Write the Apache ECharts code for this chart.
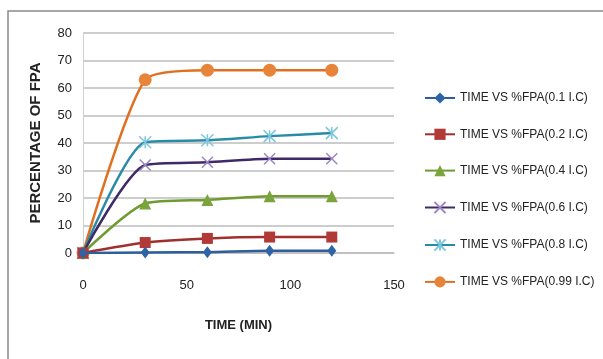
<!DOCTYPE html>
<html>
<head>
<meta charset="utf-8">
<script src="https://cdn.jsdelivr.net/npm/echarts@6/dist/echarts.min.js"></script>
<style>
html,body{margin:0;padding:0;background:#fff;}
#chart{width:603px;height:359px;}
</style>
</head>
<body>
<div id="chart"></div>
<script>
var times = [0, 30, 60, 90, 120];
var seriesNames = [
  'TIME VS %FPA(0.1 I.C)',
  'TIME VS %FPA(0.2 I.C)',
  'TIME VS %FPA(0.4 I.C)',
  'TIME VS %FPA(0.6 I.C)',
  'TIME VS %FPA(0.8 I.C)',
  'TIME VS %FPA(0.99 I.C)'
];
var fpa01 = [0, 0.2, 0.3, 0.8, 0.8];
var fpa02 = [0, 3.8, 5.3, 5.8, 5.8];
var fpa04 = [0, 18, 19.3, 20.6, 20.6];
var fpa06 = [0, 32, 33, 34.3, 34.3];
var fpa08 = [0, 40.3, 41, 42.5, 43.6];
var fpa099 = [0, 63, 66.5, 66.5, 66.5];
var yTicks = [0, 10, 20, 30, 40, 50, 60, 70, 80];
var xTicks = [0, 50, 100, 150];

var allValues = [fpa01, fpa02, fpa04, fpa06, fpa08, fpa099];
var lineColors = ['#2E5E9E', '#A0302E', '#6F9B30', '#3E2A66', '#2A8BA6', '#E0701F'];
var markColors = ['#2F63A8', '#B23A36', '#7BA53C', '#9A86C4', '#7CC6DE', '#E8843A'];
var symbols = [
  'diamond', 'rect', 'triangle',
  'path://M0,0L10,10M10,0L0,10',
  'path://M0,0L10,10M10,0L0,10M5,0L5,10',
  'circle'
];
var symSizes = [[9, 12], 11, 12, 11, 12, 13];

var font = "'Liberation Sans', Arial, sans-serif";

var series = allValues.map(function (vals, i) {
  var isStroke = (i === 3 || i === 4);
  return {
    name: seriesNames[i],
    type: 'line',
    smooth: 0.22,
    data: times.map(function (t, j) { return [t, vals[j]]; }),
    symbol: symbols[i],
    symbolSize: symSizes[i],
    showAllSymbol: true,
    color: lineColors[i],
    lineStyle: { color: lineColors[i], width: 2.5 },
    itemStyle: isStroke
      ? { color: markColors[i], borderColor: markColors[i], borderWidth: 1.5 }
      : { color: markColors[i], borderColor: markColors[i], borderWidth: 0 },
    emphasis: { disabled: true },
    z: 2 + (5 - i)
  };
});

var chart = echarts.init(document.getElementById('chart'), null, { renderer: 'canvas' });
chart.setOption({
  animation: false,
  backgroundColor: '#fff',
  textStyle: { fontFamily: font },
  graphic: [{
    type: 'rect',
    shape: { x: 8, y: 11, width: 700, height: 400 },
    style: { fill: 'none', stroke: '#8a8a8a', lineWidth: 1.5 },
    silent: true
  }],
  grid: { left: 83, right: 209, top: 33, bottom: 106, containLabel: false },
  xAxis: {
    type: 'value',
    min: xTicks[0], max: xTicks[xTicks.length - 1], interval: 50,
    name: 'TIME (MIN)',
    nameLocation: 'middle',
    nameGap: 66,
    nameTextStyle: { fontFamily: font, fontWeight: 'bold', fontSize: 13, color: '#222' },
    axisLine: { show: true, lineStyle: { color: '#BDBDBD', width: 1.5 } },
    axisTick: { show: false },
    axisLabel: { margin: 26, fontSize: 13, color: '#222', fontFamily: font },
    splitLine: { show: false }
  },
  yAxis: {
    type: 'value',
    min: yTicks[0], max: yTicks[yTicks.length - 1], interval: 10,
    name: 'PERCENTAGE OF FPA',
    nameLocation: 'middle',
    nameGap: 40,
    nameRotate: 90,
    nameTextStyle: { fontFamily: font, fontWeight: 'bold', fontSize: 15, color: '#222' },
    axisLine: { show: true, lineStyle: { color: '#D0D0D0', width: 1 } },
    axisTick: { show: false },
    axisLabel: { margin: 11, fontSize: 13, color: '#222', fontFamily: font },
    splitLine: { show: true, lineStyle: { color: '#BDBDBD', width: 1.5 } }
  },
  legend: {
    orient: 'vertical',
    left: 419,
    top: 87,
    itemWidth: 30,
    itemHeight: 14,
    itemGap: 24.3,
    textStyle: { fontFamily: font, fontSize: 12, color: '#222' },
    data: seriesNames
  },
  series: series
});
</script>
</body>
</html>
